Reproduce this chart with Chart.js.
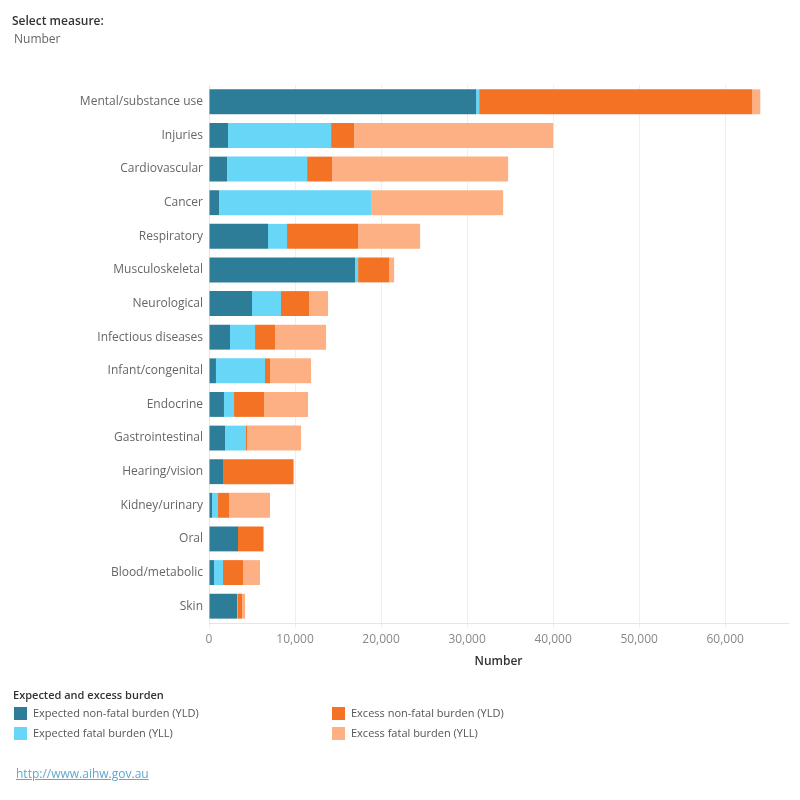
<!DOCTYPE html>
<html>
<head>
<meta charset="utf-8">
<script src="https://cdn.jsdelivr.net/npm/chart.js@4/dist/chart.umd.min.js"></script>
<style>
    body { margin: 0; background: #fff; font-family: "Open Sans", sans-serif; }
    #wrap { position: relative; width: 800px; height: 800px; }
    #chart { position: absolute; left: 0; top: 0; }
    .txt { position: absolute; font-size: 12px; white-space: nowrap; }
    .sw { position: absolute; width: 13px; height: 13px; }
</style>
</head>
<body>
<div id="wrap">
    <canvas id="chart" width="800" height="800"></canvas>
    <div class="txt" style="left:12px; top:12px; color:#333; font-weight:600;">Select measure:</div>
    <div class="txt" style="left:14px; top:30px; color:#666;">Number</div>

    <div class="txt" style="left:13px; top:687px; color:#333; font-weight:600; font-size:11px;">Expected and excess burden</div>
    <div id="legend"></div>
    <div class="txt" style="left:16px; top:765px; color:#5fa8d0; text-decoration:underline;">http://www.aihw.gov.au</div>
</div>
<script>
document.addEventListener('DOMContentLoaded', () => {
    // categories, top to bottom
    const categories = [
        'Mental/substance use', 'Injuries', 'Cardiovascular', 'Cancer', 'Respiratory',
        'Musculoskeletal', 'Neurological', 'Infectious diseases', 'Infant/congenital',
        'Endocrine', 'Gastrointestinal', 'Hearing/vision', 'Kidney/urinary', 'Oral',
        'Blood/metabolic', 'Skin'
    ];

    // values
    const expectedYLD = [31050, 2210, 2090, 1160, 6860, 16980, 5000, 2440, 810, 1740, 1860, 1630, 350, 3370, 580, 3260];
    const expectedYLL = [350, 11980, 9310, 17680, 2210, 350, 3370, 2910, 5700, 1170, 2440, 0, 700, 0, 1050, 110];
    const excessYLD = [31750, 2670, 2900, 0, 8260, 3600, 3260, 2330, 580, 3490, 120, 8140, 1280, 2910, 2320, 470];
    const excessYLL = [930, 23150, 20470, 15350, 7210, 590, 2210, 5930, 4770, 5110, 6280, 120, 4760, 120, 1980, 350];

    // x axis ticks
    const xTicks = [0, 10000, 20000, 30000, 40000, 50000, 60000];
    const xMax = 67300;

    const seriesLabels = [
        'Expected non-fatal burden (YLD)', 'Expected fatal burden (YLL)',
        'Excess non-fatal burden (YLD)', 'Excess fatal burden (YLL)'
    ];
    const colors = ['#2d7d99', '#67d6f7', '#f37224', '#fdb083'];
    const seriesData = [expectedYLD, expectedYLL, excessYLD, excessYLL];

    const ctx = document.getElementById('chart').getContext('2d');
    new Chart(ctx, {
        type: 'bar',
        data: {
            labels: categories,
            datasets: seriesData.map((d, i) => ({
                label: seriesLabels[i],
                data: d,
                backgroundColor: colors[i],
                borderWidth: 0,
                barPercentage: 0.74,
                categoryPercentage: 1.0
            }))
        },
        options: {
            indexAxis: 'y',
            responsive: false,
            animation: false,
            layout: { padding: { top: 85, bottom: 127, left: 0, right: 12 } },
            plugins: {
                legend: { display: false },
                tooltip: { enabled: false }
            },
            scales: {
                x: {
                    stacked: true,
                    min: 0,
                    max: xMax,
                    afterBuildTicks: (scale) => {
                        scale.ticks = xTicks.map(v => ({ value: v }));
                    },
                    afterFit: (scale) => { scale.height = 50; },
                    ticks: {
                        autoSkip: false,
                        maxRotation: 0,
                        color: '#888',
                        padding: 4,
                        font: { family: 'Open Sans', size: 12 },
                        callback: (v) => Number(v).toLocaleString('en-US')
                    },
                    grid: { color: '#efefef', lineWidth: 1, tickLength: 5 },
                    border: { color: '#e6e6e6' },
                    title: {
                        display: true,
                        text: 'Number',
                        color: '#333',
                        padding: { top: 4 },
                        font: { family: 'Open Sans', size: 12, weight: '600' }
                    }
                },
                y: {
                    stacked: true,
                    afterFit: (scale) => { scale.width = 209; },
                    ticks: {
                        color: '#666',
                        padding: 6,
                        font: { family: 'Open Sans', size: 12 }
                    },
                    grid: { display: false, drawTicks: false },
                    border: { color: '#e6e6e6' }
                }
            }
        }
    });

    // legend built from the same series
    const legend = document.getElementById('legend');
    const pos = [[14, 707], [14, 727], [332, 707], [332, 727]];
    seriesLabels.forEach((s, i) => {
        const sw = document.createElement('div');
        sw.className = 'sw';
        sw.style.left = pos[i][0] + 'px';
        sw.style.top = pos[i][1] + 'px';
        sw.style.background = colors[i];
        legend.appendChild(sw);
        const t = document.createElement('div');
        t.className = 'txt';
        t.style.left = (pos[i][0] + 19) + 'px';
        t.style.top = (pos[i][1] - 2) + 'px';
        t.style.fontSize = '11px';
        t.style.color = '#555';
        t.textContent = s;
        legend.appendChild(t);
    });
});
</script>
</body>
</html>
